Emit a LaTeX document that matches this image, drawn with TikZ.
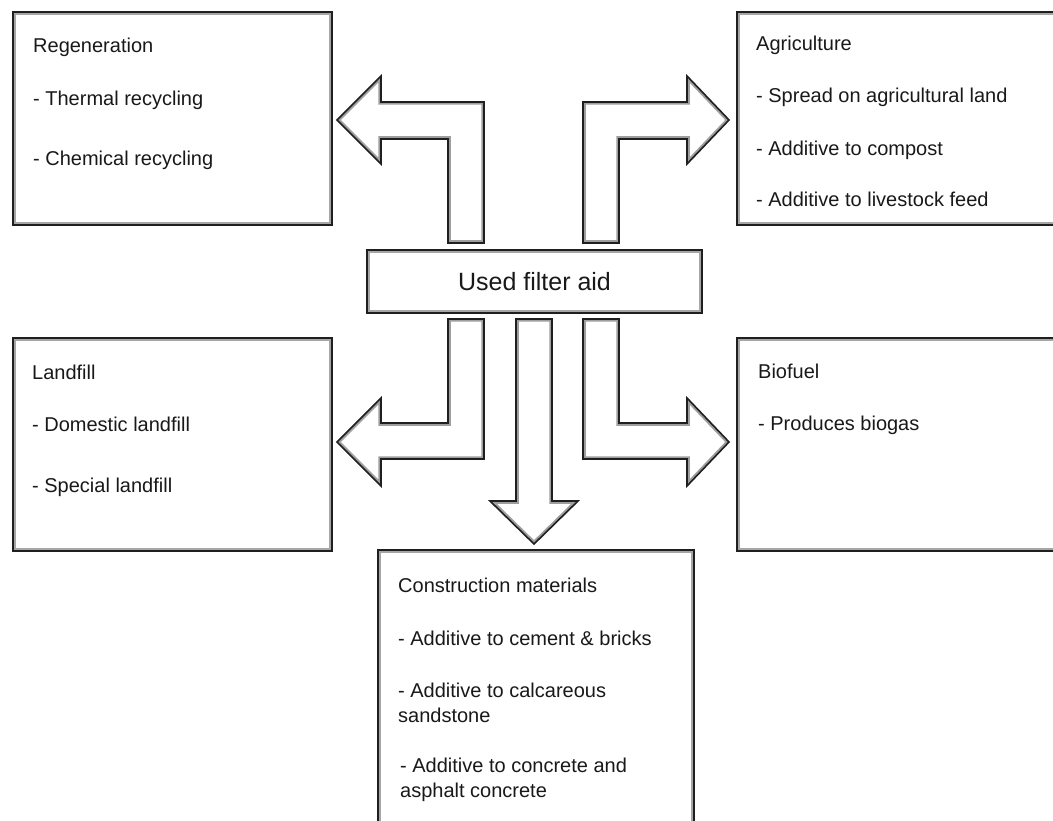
\documentclass[tikz,border=0pt]{standalone}
\usepackage{fontspec}
\setmainfont{Liberation Sans}
\newcommand\bendarrow[1]{%
  \fill[white] #1;
  \begin{scope}\clip #1; \draw[bevelline] #1; \end{scope}
  \draw[outline] #1;}
\tikzset{
  outline/.style={draw=black!88, line width=1.6pt, line join=miter},
  bevelline/.style={draw=black!38, line width=5.5pt, line join=miter},
  boxnode/.style={rectangle, draw=black!88, line width=2pt, fill=white, inner sep=0pt,
    anchor=north west,
    path picture={\draw[black!35, line width=2pt]
      ([shift={(2.2pt,2.2pt)}]path picture bounding box.south west) rectangle
      ([shift={(-2.2pt,-2.2pt)}]path picture bounding box.north east);}},
  txt/.style={anchor=base west, inner sep=0pt, font=\fontsize{20}{24}\selectfont, text=black!90},
}
\begin{document}
\begin{tikzpicture}[x=1pt, y=-1pt]
\useasboundingbox (0,0) rectangle (1053,821);
\fill[white] (0,0) rectangle (1053,821);

% boxes
\node[boxnode, minimum width=319pt, minimum height=213pt] (regen) at (12,11) {};
\node[boxnode, minimum width=322pt, minimum height=213pt] (agri) at (736,11) {};
\node[boxnode, minimum width=335pt, minimum height=63pt] (used) at (366,249) {};
\node[boxnode, minimum width=319pt, minimum height=213pt] (landfill) at (12,337) {};
\node[boxnode, minimum width=322pt, minimum height=213pt] (biofuel) at (736,337) {};
\node[boxnode, minimum width=316pt, minimum height=275pt] (constr) at (377,549) {};

% texts
\node[inner sep=0pt, font=\fontsize{25}{30}\selectfont, text=black!90] (usedt) at (used.center) {Used filter aid};

\node[txt] (r1) at (33,53) {Regeneration};
\node[txt] (r2) at (33,106) {- Thermal recycling};
\node[txt] (r3) at (33,166) {- Chemical recycling};

\node[txt] (a1) at (756,51) {Agriculture};
\node[txt] (a2) at (756,103) {- Spread on agricultural land};
\node[txt] (a3) at (756,156) {- Additive to compost};
\node[txt] (a4) at (756,207) {- Additive to livestock feed};

\node[txt] (l1) at (32,379) {Landfill};
\node[txt] (l2) at (32,431) {- Domestic landfill};
\node[txt] (l3) at (32,492) {- Special landfill};

\node[txt] (b1) at (758,378) {Biofuel};
\node[txt] (b2) at (758,430) {- Produces biogas};

\node[txt] (c1) at (398,592) {Construction materials};
\node[txt] (c2) at (398,645) {- Additive to cement \& bricks};
\node[txt] (c3) at (398,697) {- Additive to calcareous};
\node[txt] (c4) at (398,722) {sandstone};
\node[txt] (c5) at (400,772) {- Additive to concrete and};
\node[txt] (c6) at (400,797) {asphalt concrete};

% block arrows
\bendarrow{(448,243) -- (448,139) -- (381,139) -- (381,164) -- (337,120) -- (381,76) -- (381,102) -- (484,102) -- (484,243) -- cycle}
\bendarrow{(619,243) -- (619,139) -- (687,139) -- (687,164) -- (729,120) -- (687,76) -- (687,102) -- (583,102) -- (583,243) -- cycle}
\bendarrow{(448,319) -- (448,423) -- (381,423) -- (381,398) -- (337,442) -- (381,486) -- (381,459) -- (484,459) -- (484,319) -- cycle}
\bendarrow{(619,319) -- (619,423) -- (687,423) -- (687,398) -- (729,442) -- (687,486) -- (687,459) -- (583,459) -- (583,319) -- cycle}
\bendarrow{(516,319) -- (516,501) -- (490,501) -- (534,544) -- (578,501) -- (552,501) -- (552,319) -- cycle}
\end{tikzpicture}
\end{document}
